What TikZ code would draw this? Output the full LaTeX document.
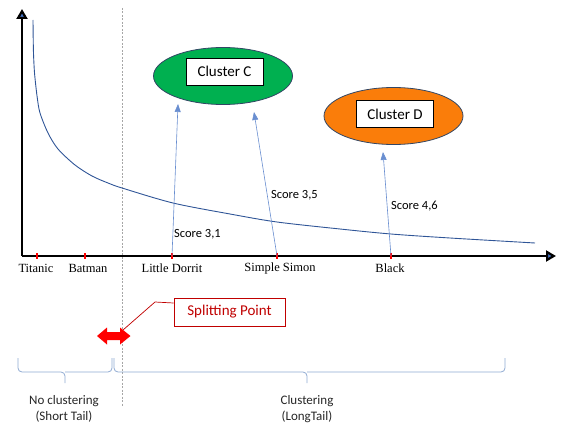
\documentclass[tikz,border=0pt]{standalone}
\usepackage{fontspec}
\setmainfont{Liberation Serif}
\newfontfamily\carl{Carlito}
\usetikzlibrary{arrows.meta,shapes.geometric}
\definecolor{axblue}{RGB}{68,114,196}
\definecolor{cgreen}{RGB}{0,176,80}
\definecolor{dorange}{RGB}{250,125,10}
\definecolor{darkred}{RGB}{192,0,0}
\definecolor{bracec}{RGB}{143,170,210}
\definecolor{curvec}{RGB}{47,85,151}
\definecolor{edgec}{RGB}{50,70,100}
\tikzset{
  axis/.style={line width=2.2pt,-{Triangle[width=11pt,length=10pt,fill=axblue]}},
  tick/.style={red,line width=1.6pt},
  movie/.style={font=\fontsize{12.5}{14}\selectfont,inner sep=0pt},
  cluster/.style={ellipse,draw=edgec,line width=0.8pt,minimum width=139pt,minimum height=57pt,inner sep=0pt},
  labelbox/.style={draw=black,fill=white,line width=0.6pt,minimum width=77pt,minimum height=27pt,inner sep=0pt,font=\carl\fontsize{15}{17}\selectfont},
  link/.style={axblue!80,line width=0.6pt,-{Triangle[width=6pt,length=8pt]}},
  score/.style={font=\carl\fontsize{12.5}{14}\selectfont,anchor=west,inner sep=0pt},
  brace/.style={bracec,line width=0.8pt,rounded corners=4pt},
  bracetext/.style={font=\carl\fontsize{13}{16}\selectfont,align=center,text=black!85},
}
\begin{document}
\begin{tikzpicture}[x=1pt,y=-1pt]
\useasboundingbox (0,0) rectangle (561,425);
% splitting dashed line
\draw[gray!70,line width=0.6pt,dash pattern=on 2pt off 1.5pt] (122,8) -- (122,406);
% axes
\coordinate (origin) at (22,256);
\coordinate (ytop) at (22,9);
\coordinate (xend) at (556,256);
\draw[axis] (origin) -- (ytop);
\draw[axis] (origin) -- (xend);
% curve
\draw[curvec,line width=0.9pt] plot[smooth,tension=0.5] coordinates {(33,20) (33.4,50) (34.3,70) (35.5,83) (37.3,98) (40,113) (48,133) (58,149) (75,165) (92,176) (108,183) (122,188) (173,203) (230,214) (277,222) (340,229) (391,234) (450,238) (535,243)};
% ticks
\foreach \n/\x in {t1/37,t2/85,t3/172,t4/277,t5/391}{
  \coordinate (\n) at (\x,256);
  \draw[tick] (\x,253) -- (\x,259);
}
% movie labels
\node[movie] (titanic) at (36,268) {Titanic};
\node[movie] (batman) at (88,268) {Batman};
\node[movie] (dorrit) at (172,268) {Little Dorrit};
\node[movie] (simon) at (280,268) {Simple Simon};
\node[movie] (black) at (390,268) {Black};
% clusters
\node[cluster,fill=cgreen] (clC) at (223,76) {};
\node[labelbox] (lblC) at (224.5,71.5) {Cluster C};
\node[cluster,fill=dorange] (clD) at (393.5,116) {};
\node[labelbox] (lblD) at (395,114) {Cluster D};
% arrow ends
\coordinate (eC1) at (178,104);
\coordinate (eC2) at (254,112);
\coordinate (eD) at (383,152);
\draw[link] (t3) -- (eC1);
\draw[link] (t4) -- (eC2);
\draw[link] (t5) -- (eD);
% scores
\node[score] (s1) at (174,234) {Score 3,1};
\node[score] (s2) at (271,195) {Score 3,5};
\node[score] (s3) at (391,206) {Score 4,6};
% splitting point
\node[draw=darkred,line width=0.8pt,fill=white,text=darkred,minimum width=111pt,minimum height=28pt,inner sep=0pt,font=\carl\fontsize{15}{17}\selectfont] (split) at (229.5,312) {Splitting Point};
\coordinate (cbend) at (155,302);
\coordinate (ctip) at (123,330);
\draw[darkred,line width=0.7pt] ([yshift=9pt]split.west) -- (cbend) -- (ctip);
% double arrow
\fill[red] (97,336) -- (107,327.5) -- (107,332) -- (120,332) -- (120,327.5) -- (130.5,336) -- (120,344.5) -- (120,340) -- (107,340) -- (107,344.5) -- cycle;
% braces
\draw[brace] (18,358) -- (18,372) -- (65,372) -- (65,383);
\draw[brace] (65,372) -- (112,372) -- (112,358);
\draw[brace] (114,358) -- (114,372) -- (307,372) -- (307,383);
\draw[brace] (307,372) -- (505,372) -- (505,358);
\node[bracetext] (noclus) at (64,409) {No clustering\\(Short Tail)};
\node[bracetext] (clus) at (307,409) {Clustering\\(LongTail)};
\end{tikzpicture}
\end{document}
